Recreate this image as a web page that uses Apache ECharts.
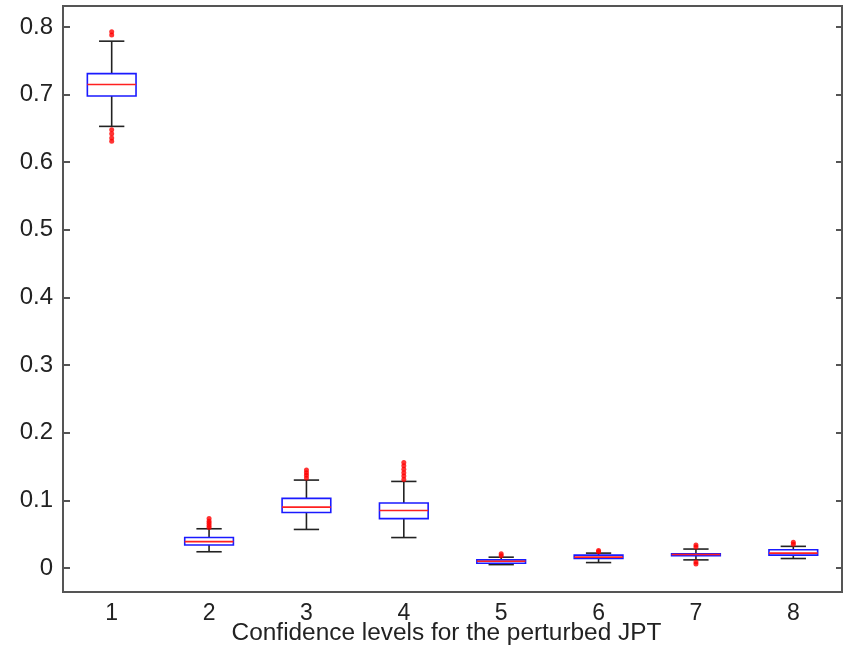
<!DOCTYPE html>
<html>
<head>
<meta charset="utf-8">
<script src="https://cdn.jsdelivr.net/npm/echarts@6/dist/echarts.min.js"></script>
<style>
html, body { margin: 0; padding: 0; background: #fff; }
#chart { width: 843px; height: 655px; }
</style>
</head>
<body>
<div id="chart"></div>
<script>
// box statistics
var categories = ['1', '2', '3', '4', '5', '6', '7', '8'];
var whiskerLow  = [0.653, 0.024, 0.057, 0.045, 0.005, 0.008, 0.012, 0.014];
var quart1      = [0.698, 0.034, 0.082, 0.073, 0.007, 0.014, 0.018, 0.019];
var medians     = [0.715, 0.039, 0.090, 0.085, 0.010, 0.016, 0.020, 0.022];
var quart3      = [0.731, 0.045, 0.103, 0.096, 0.012, 0.019, 0.021, 0.027];
var whiskerHigh = [0.779, 0.058, 0.130, 0.128, 0.016, 0.022, 0.028, 0.032];
var outlierValues = [
    [0.788, 0.793, 0.648, 0.642, 0.636, 0.631],
    [0.060, 0.063, 0.066, 0.069, 0.073],
    [0.133, 0.137, 0.141, 0.145],
    [0.131, 0.136, 0.141, 0.146, 0.151, 0.156],
    [0.018, 0.021],
    [0.024, 0.026],
    [0.031, 0.034, 0.009, 0.006],
    [0.035, 0.038]
];
var yMin = -0.0355, yMax = 0.831;

var boxData = [];
var outlierData = [];
for (var i = 0; i < categories.length; i++) {
    boxData.push([i, whiskerLow[i], quart1[i], medians[i], quart3[i], whiskerHigh[i]]);
    for (var v of outlierValues[i]) {
        outlierData.push([i, v]);
    }
}

function renderBox(params, api) {
    var x = api.value(0);
    var pLow = api.coord([x, api.value(1)]);
    var pQ1 = api.coord([x, api.value(2)]);
    var pMed = api.coord([x, api.value(3)]);
    var pQ3 = api.coord([x, api.value(4)]);
    var pHigh = api.coord([x, api.value(5)]);
    var band = api.size([1, 0])[0];
    var half = band * 0.25;
    var cap = band * 0.13;
    var cx = pMed[0];
    var black = {stroke: '#222', lineWidth: 1.6};
    return {
        type: 'group',
        children: [
            {type: 'line', shape: {x1: cx, y1: pQ3[1], x2: cx, y2: pHigh[1]}, style: black},
            {type: 'line', shape: {x1: cx, y1: pQ1[1], x2: cx, y2: pLow[1]}, style: black},
            {type: 'line', shape: {x1: cx - cap, y1: pHigh[1], x2: cx + cap, y2: pHigh[1]}, style: black},
            {type: 'line', shape: {x1: cx - cap, y1: pLow[1], x2: cx + cap, y2: pLow[1]}, style: black},
            {type: 'rect', shape: {x: cx - half, y: pQ3[1], width: half * 2, height: pQ1[1] - pQ3[1]},
                style: {fill: 'none', stroke: '#1a1aff', lineWidth: 1.6}},
            {type: 'line', shape: {x1: cx - half, y1: pMed[1], x2: cx + half, y2: pMed[1]},
                style: {stroke: '#ff2020', lineWidth: 1.6}}
        ]
    };
}

var chart = echarts.init(document.getElementById('chart'));
var axisGrey = '#555';
var option = {
    animation: false,
    backgroundColor: '#fff',
    textStyle: {fontFamily: 'Liberation Sans, Arial, sans-serif'},
    grid: {
        left: 63, right: 1, top: 6, bottom: 63,
        outerBoundsMode: 'none',
        containLabel: false,
        show: true, borderColor: axisGrey, borderWidth: 2, backgroundColor: 'transparent'
    },
    xAxis: {
        type: 'category',
        data: categories,
        boundaryGap: true,
        name: 'Confidence levels for the perturbed JPT',
        nameLocation: 'middle',
        nameGap: 29,
        nameMoveOverlap: false,
        nameTextStyle: {fontSize: 24.4, color: '#222', padding: [0, 12, 0, 0]},
        axisLine: {onZero: false, lineStyle: {color: axisGrey, width: 2}},
        axisTick: {show: false},
        axisLabel: {fontSize: 23, color: '#222', margin: 10},
        splitLine: {show: false}
    },
    yAxis: [
        {
            type: 'value',
            min: yMin, max: yMax,
            splitNumber: 8,
            axisLine: {show: true, lineStyle: {color: axisGrey, width: 2}},
            axisTick: {show: true, inside: true, length: 7, lineStyle: {color: axisGrey, width: 2}},
            axisLabel: {fontSize: 24, color: '#222', margin: 10, showMinLabel: false, showMaxLabel: false},
            splitLine: {show: false}
        },
        {
            type: 'value',
            position: 'right',
            min: yMin, max: yMax,
            splitNumber: 8,
            axisLine: {show: true, lineStyle: {color: axisGrey, width: 2}},
            axisTick: {show: true, inside: true, length: 6, lineStyle: {color: axisGrey, width: 2}},
            axisLabel: {show: false},
            splitLine: {show: false}
        }
    ],
    series: [
        {
            type: 'custom',
            renderItem: renderBox,
            encode: {x: 0, y: [1, 2, 3, 4, 5]},
            data: boxData,
            z: 2
        },
        {
            type: 'scatter',
            data: outlierData,
            symbol: 'circle',
            symbolSize: 5,
            itemStyle: {color: '#ff0000'},
            z: 3
        }
    ]
};
chart.setOption(option);
window.onresize = chart.resize;
</script>
</body>
</html>
